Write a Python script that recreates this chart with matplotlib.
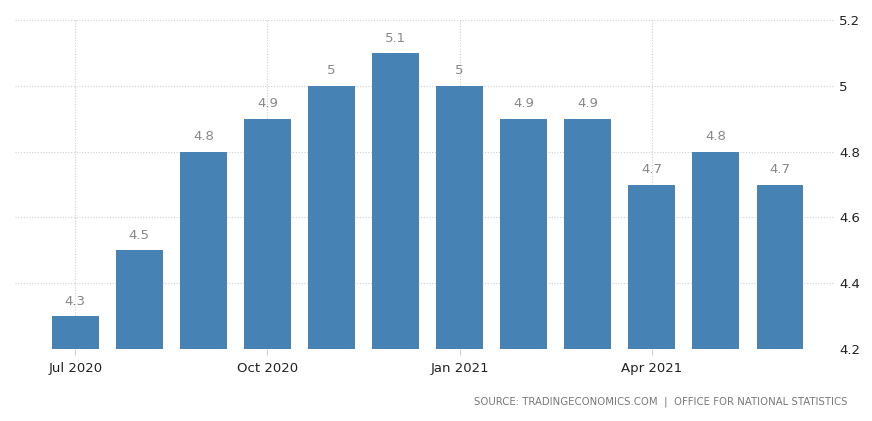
import matplotlib.pyplot as plt

months = ["Jul 2020", "Aug 2020", "Sep 2020", "Oct 2020", "Nov 2020", "Dec 2020",
          "Jan 2021", "Feb 2021", "Mar 2021", "Apr 2021", "May 2021", "Jun 2021"]
values = [4.3, 4.5, 4.8, 4.9, 5.0, 5.1, 5.0, 4.9, 4.9, 4.7, 4.8, 4.7]
value_labels = ["4.3", "4.5", "4.8", "4.9", "5", "5.1", "5", "4.9", "4.9", "4.7", "4.8", "4.7"]
tick_months = ["Jul 2020", "Oct 2020", "Jan 2021", "Apr 2021"]
y_ticks = [4.2, 4.4, 4.6, 4.8, 5.0, 5.2]
y_tick_labels = ["4.2", "4.4", "4.6", "4.8", "5", "5.2"]

fig = plt.figure(figsize=(8.72, 4.21), dpi=100)
ax = fig.add_axes([0.0172, 0.171, 0.9404, 0.7815])

x = list(range(len(months)))
ax.bar(x, [v - 4.2 for v in values], bottom=4.2, width=0.73, color="#4682b4", zorder=3)

for xi, v, lab in zip(x, values, value_labels):
    ax.annotate(lab, (xi, v), xytext=(0, 6), textcoords="offset points",
                ha="center", va="bottom", fontsize=9.5, color="#888888")

ax.set_xlim(-0.94, 11.86)
ax.set_ylim(4.2, 5.2)

tick_pos = [months.index(m) for m in tick_months]
ax.set_xticks(tick_pos)
ax.set_xticklabels(tick_months, fontsize=9.5, color="#222222")
ax.set_yticks(y_ticks)
ax.set_yticklabels(y_tick_labels, fontsize=9.5, color="#222222")
ax.yaxis.tick_right()
ax.tick_params(axis="y", length=0, pad=3)
ax.tick_params(axis="x", length=4, color="#cccccc", pad=5)

ax.grid(True, axis="both", linestyle=(0, (1, 1.5)), color="#d0d0d0", linewidth=0.8, zorder=0)
for side in ax.spines.values():
    side.set_visible(False)

fig.text(0.972, 0.045, "SOURCE: TRADINGECONOMICS.COM  |  OFFICE FOR NATIONAL STATISTICS",
         ha="right", va="center", fontsize=7.3, color="#777777")

fig.savefig("out.png", dpi=100)
